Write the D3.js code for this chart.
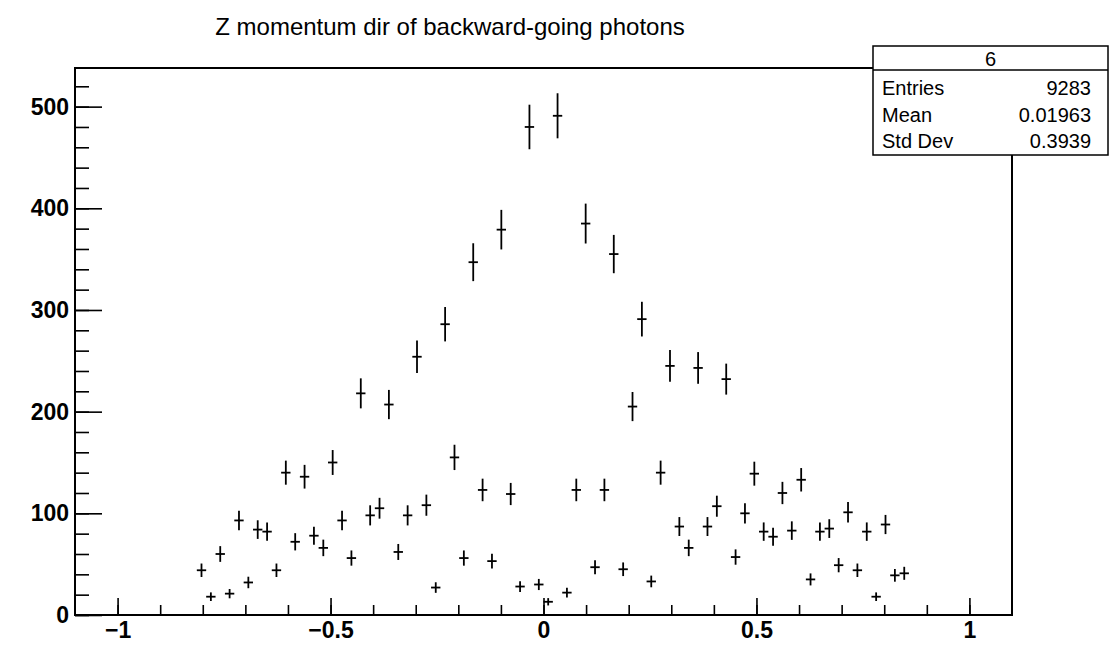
<!DOCTYPE html>
<html>
<head>
<meta charset="utf-8">
<script src="https://cdn.jsdelivr.net/npm/d3@7"></script>
<style>
  body { margin: 0; background: #fff; }
  svg { display: block; font-family: "Liberation Sans", Arial, Helvetica, sans-serif; }
  .axis path { display: none; }
  .axis line { stroke: #000; stroke-width: 1.6px; }
  .axis text { font-weight: bold; font-size: 22px; fill: #000; }
</style>
</head>
<body>
<svg id="chart" width="1120" height="647"></svg>
<script>
// histogram binning (100 bins from -1.1 to 1.1)
const histTitle = "Z momentum dir of backward-going photons"
const xMin = -1.1
const xMax = 1.1
const nBins = 100
const firstFilledBin = 13

// bin contents, from bin 13 to bin 88
const counts = [
  44, 18, 60, 21, 93, 32, 84, 82, 44,
  140, 72, 136, 78, 66, 150, 93, 56, 218,
  98, 105, 207, 62, 98, 254, 108, 27, 286,
  155, 56, 347, 123, 53, 379, 119, 28, 480,
  30, 13, 491, 22, 123, 385, 47, 123, 355,
  45, 205, 291, 33, 140, 245, 87, 66, 243,
  87, 107, 232, 57, 100, 139, 82, 77, 120,
  83, 133, 35, 82, 85, 49, 101, 44, 82,
  18, 89, 39, 41
]

const xTicks = [-1, -0.5, 0, 0.5, 1]
const yTicks = [0, 100, 200, 300, 400, 500]
const yMax = 538

const statsName = "6"
const statsRows = [
  ["Entries", "9283"],
  ["Mean", "0.01963"],
  ["Std Dev", "0.3939"]
]

const frame = { left: 75, right: 1012, top: 68, bottom: 615 }
const svg = d3.select("#chart")

const binWidth = (xMax - xMin) / nBins
const points = counts.map((c, i) => {
  const bin = firstFilledBin + i
  const lo = xMin + bin * binWidth
  return { lo: lo, hi: lo + binWidth, x: lo + binWidth / 2, y: c, err: Math.sqrt(c) }
})

const x = d3.scaleLinear().domain([xMin, xMax]).range([frame.left, frame.right])
const y = d3.scaleLinear().domain([0, yMax]).range([frame.bottom, frame.top])

const minus = s => s.replace("-", "\u2212")

// minor ticks first, then the major ones with labels
svg.append("g")
  .attr("class", "axis")
  .attr("transform", `translate(0,${frame.bottom})`)
  .call(d3.axisBottom(x).tickValues(d3.range(-10, 11).map(d => d / 10)).tickSize(-10).tickFormat(""))

svg.append("g")
  .attr("class", "axis x-axis")
  .attr("transform", `translate(0,${frame.bottom})`)
  .call(d3.axisBottom(x).tickValues(xTicks).tickSize(-17).tickPadding(7)
    .tickFormat(d => minus(d3.format("")(d))))

svg.append("g")
  .attr("class", "axis")
  .attr("transform", `translate(${frame.left},0)`)
  .call(d3.axisLeft(y).tickValues(d3.range(0, yMax, 20)).tickSize(-14).tickFormat(""))

svg.append("g")
  .attr("class", "axis y-axis")
  .attr("transform", `translate(${frame.left},0)`)
  .call(d3.axisLeft(y).tickValues(yTicks).tickSize(-27).tickPadding(6))

svg.selectAll(".axis text").attr("font-size", 23).style("font-size", "23px")

// frame
svg.append("rect")
  .attr("x", frame.left)
  .attr("y", frame.top)
  .attr("width", frame.right - frame.left)
  .attr("height", frame.bottom - frame.top)
  .attr("fill", "none")
  .attr("stroke", "#000")
  .attr("stroke-width", 2)

// error bars
const marks = svg.append("g").attr("stroke", "#000").attr("stroke-width", 1.8)
marks.selectAll(".hbar")
  .data(points)
  .join("line")
  .attr("class", "hbar")
  .attr("x1", d => x(d.lo))
  .attr("x2", d => x(d.hi))
  .attr("y1", d => y(d.y))
  .attr("y2", d => y(d.y))
marks.selectAll(".vbar")
  .data(points)
  .join("line")
  .attr("class", "vbar")
  .attr("x1", d => x(d.x))
  .attr("x2", d => x(d.x))
  .attr("y1", d => y(d.y - d.err))
  .attr("y2", d => y(d.y + d.err))

// title
svg.append("text")
  .attr("x", 450)
  .attr("y", 35)
  .attr("text-anchor", "middle")
  .attr("font-size", 24)
  .text(histTitle)

// stats box
const box = { left: 873, right: 1108, top: 46, head: 70, bottom: 155 }
const stats = svg.append("g")
stats.append("rect")
  .attr("x", box.left).attr("y", box.top)
  .attr("width", box.right - box.left).attr("height", box.bottom - box.top)
  .attr("fill", "#fff").attr("stroke", "#000").attr("stroke-width", 1.5)
stats.append("line")
  .attr("x1", box.left).attr("x2", box.right)
  .attr("y1", box.head).attr("y2", box.head)
  .attr("stroke", "#000").attr("stroke-width", 1.5)
stats.append("text")
  .attr("x", (box.left + box.right) / 2)
  .attr("y", 66)
  .attr("text-anchor", "middle")
  .attr("font-size", 20)
  .text(statsName)
statsRows.forEach((row, i) => {
  const ty = 95 + i * 26.5
  stats.append("text").attr("x", 882).attr("y", ty).attr("font-size", 20).text(row[0])
  stats.append("text").attr("x", 1091).attr("y", ty).attr("font-size", 20)
    .attr("text-anchor", "end").text(row[1])
})
</script>
</body>
</html>
